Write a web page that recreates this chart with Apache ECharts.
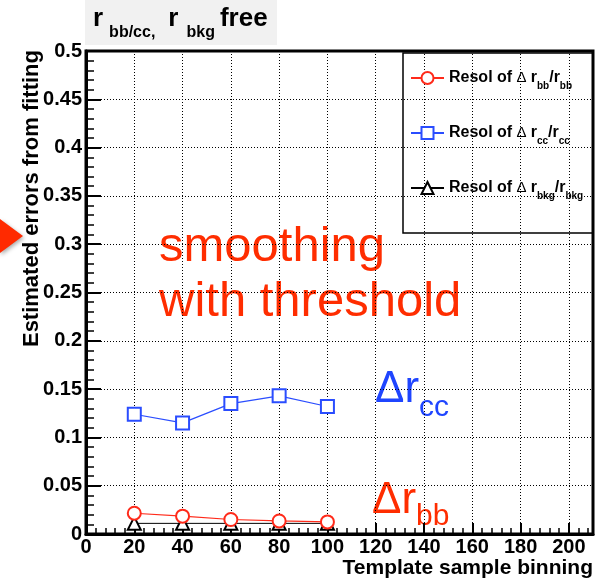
<!DOCTYPE html>
<html>
<head>
<meta charset="utf-8">
<script src="https://cdn.jsdelivr.net/npm/echarts@6/dist/echarts.min.js"></script>
<style>
  html, body { margin: 0; padding: 0; background: #fff; }
  #chart { width: 606px; height: 585px; }
</style>
</head>
<body>
<div id="chart"></div>
<script>
// template sample binning (x) and estimated errors (y)
const binning = [20, 40, 60, 80, 100];
const resolBB = [0.0215, 0.0185, 0.015, 0.0135, 0.0125];
const resolCC = [0.124, 0.115, 0.135, 0.143, 0.132];
const resolBKG = [0.011, 0.011, 0.011, 0.011, 0.011];

const FONT = "'Liberation Sans', Arial, sans-serif";
const RED = "#ff2a1a";
const BLUE = "#2a4dff";

function pairs(ys) {
  return binning.map((x, i) => [x, ys[i]]);
}

// legend labels with subscripts
const legendText = {
  bb: "{b|Resol of }{d|Δ }{b|r}{s|bb}{b|/r}{s|bb}",
  cc: "{b|Resol of }{d|Δ }{b|r}{s|cc}{b|/r}{s|cc}",
  bkg: "{b|Resol of }{d|Δ }{b|r}{s|bkg}{b|/r}{s|bkg}",
};

let chart = echarts.init(document.getElementById("chart"));
let option = {
  animation: false,
  textStyle: { fontFamily: FONT },
  title: {
    left: 93,
    top: 6,
    padding: 0,
    text: "{r|r}{s1|bb/cc,}{r2|r}{s2|bkg}{f|free}",
    textStyle: {
      rich: {
        r: { fontFamily: FONT, fontWeight: "bold", fontSize: 26, verticalAlign: "top", color: "#000" },
        r2: { fontFamily: FONT, fontWeight: "bold", fontSize: 26, verticalAlign: "top", color: "#000", padding: [0, 0, 0, 13] },
        s1: { fontFamily: FONT, fontWeight: "bold", fontSize: 16, lineHeight: 35, verticalAlign: "bottom", color: "#000", padding: [0, 0, 0, 6] },
        s2: { fontFamily: FONT, fontWeight: "bold", fontSize: 16, lineHeight: 35, verticalAlign: "bottom", color: "#000", padding: [0, 0, 0, 8] },
        f: { fontFamily: FONT, fontWeight: "bold", fontSize: 26, verticalAlign: "top", color: "#000", padding: [0, 0, 0, 5] },
      },
    },
  },
  grid: {
    left: 86,
    right: 13,
    top: 51,
    bottom: 51,
    outerBoundsMode: "none",
    containLabel: false,
    show: true,
    borderColor: "#000",
    borderWidth: 3,
  },
  legend: {
    orient: "vertical",
    left: 403,
    top: 53,
    padding: [17, 4, 17, 7],
    itemGap: 34,
    itemWidth: 33,
    itemHeight: 15,
    selectedMode: false,
    data: ["bb", "cc", "bkg"],
    formatter: (name) => legendText[name],
    textStyle: {
      rich: {
        b: { fontFamily: FONT, fontWeight: "bold", fontSize: 16, lineHeight: 26, color: "#000" },
        d: { fontFamily: FONT, fontSize: 15, lineHeight: 26, color: "#000" },
        s: { fontFamily: FONT, fontWeight: "bold", fontSize: 10, lineHeight: 12, verticalAlign: "bottom", color: "#000" },
      },
    },
  },
  xAxis: {
    type: "value",
    min: 0,
    max: 210,
    interval: 20,
    axisLine: { lineStyle: { color: "#000", width: 3 } },
    axisTick: { inside: true, length: 11, lineStyle: { color: "#000", width: 2 } },
    minorTick: { show: true, splitNumber: 5, length: 6, lineStyle: { color: "#000", width: 1.5 } },
    axisLabel: {
      margin: 3,
      fontFamily: FONT,
      fontWeight: "bold",
      fontSize: 20,
      color: "#000",
      formatter: (v) => (v > 200 ? "" : String(v)),
    },
    splitLine: { show: true, lineStyle: { color: "#000", width: 1, type: [1, 2] } },
  },
  yAxis: {
    type: "value",
    min: 0,
    max: 0.5,
    interval: 0.05,
    axisLine: { show: true, lineStyle: { color: "#000", width: 3 } },
    axisTick: { show: true, inside: true, length: 15, lineStyle: { color: "#000", width: 2 } },
    minorTick: { show: true, splitNumber: 5, length: 8, lineStyle: { color: "#000", width: 1.5 } },
    axisLabel: {
      margin: 4,
      fontFamily: FONT,
      fontWeight: "bold",
      fontSize: 20,
      color: "#000",
      formatter: (v) => String(+v.toFixed(2)),
    },
    splitLine: { show: true, lineStyle: { color: "#000", width: 1, type: [1, 2] } },
  },
  series: [
    {
      name: "bkg",
      type: "line",
      data: pairs(resolBKG),
      symbol: "emptyTriangle",
      symbolSize: 13,
      color: "#000",
      lineStyle: { width: 1, color: "#000" },
      itemStyle: { color: "#000", borderWidth: 1.2 },
    },
    {
      name: "bb",
      type: "line",
      data: pairs(resolBB),
      symbol: "emptyCircle",
      symbolSize: 13,
      color: RED,
      lineStyle: { width: 1.2, color: RED },
      itemStyle: { color: RED, borderWidth: 1.2 },
    },
    {
      name: "cc",
      type: "line",
      data: pairs(resolCC),
      symbol: "emptyRect",
      symbolSize: 13,
      color: BLUE,
      lineStyle: { width: 1.2, color: BLUE },
      itemStyle: { color: BLUE, borderWidth: 1.2 },
    },
  ],
  graphic: [
    // grey title pad
    { type: "rect", z: -10, shape: { x: 85, y: 0, width: 192, height: 45 }, style: { fill: "#f1f1f1" } },
    // legend frame
    { type: "rect", z: 5, shape: { x: 403, y: 53, width: 190, height: 180 }, style: { fill: "none", stroke: "#000", lineWidth: 1.5 } },
    // axis titles
    {
      type: "text",
      x: 21,
      y: 50,
      rotation: Math.PI / 2,
      style: {
        text: "Estimated errors from fitting",
        font: "bold 22px " + FONT,
        fill: "#000",
        textAlign: "right",
        textVerticalAlign: "top",
      },
    },
    {
      type: "text",
      x: 593,
      y: 568,
      style: {
        text: "Template sample binning",
        font: "bold 21px " + FONT,
        fill: "#000",
        textAlign: "right",
        textVerticalAlign: "middle",
      },
    },
    // slide arrow
    {
      type: "polygon",
      shape: { points: [[0, 219], [23, 236], [0, 253]] },
      style: { fill: "#ff2a00", shadowBlur: 4, shadowColor: "rgba(0,0,0,0.35)", shadowOffsetX: 1, shadowOffsetY: 2 },
    },
    // annotations
    {
      type: "text",
      x: 159,
      y: 220,
      style: {
        text: "smoothing\nwith threshold",
        font: "49px " + FONT,
        lineHeight: 55,
        fill: "#ff2d00",
        textVerticalAlign: "top",
      },
    },
    {
      type: "text",
      x: 375,
      y: 368,
      style: {
        text: "{m|Δr}{s|cc}",
        textVerticalAlign: "top",
        rich: {
          m: { fontFamily: FONT, fontSize: 44, verticalAlign: "top", fill: "#1f45ff" },
          s: { fontFamily: FONT, fontSize: 30, lineHeight: 55, verticalAlign: "bottom", fill: "#1f45ff" },
        },
      },
    },
    {
      type: "text",
      x: 372,
      y: 479,
      style: {
        text: "{m|Δr}{s|bb}",
        textVerticalAlign: "top",
        rich: {
          m: { fontFamily: FONT, fontSize: 44, verticalAlign: "top", fill: "#ff2d00" },
          s: { fontFamily: FONT, fontSize: 30, lineHeight: 53, verticalAlign: "bottom", fill: "#ff2d00" },
        },
      },
    },
  ],
};
chart.setOption(option);
</script>
</body>
</html>
